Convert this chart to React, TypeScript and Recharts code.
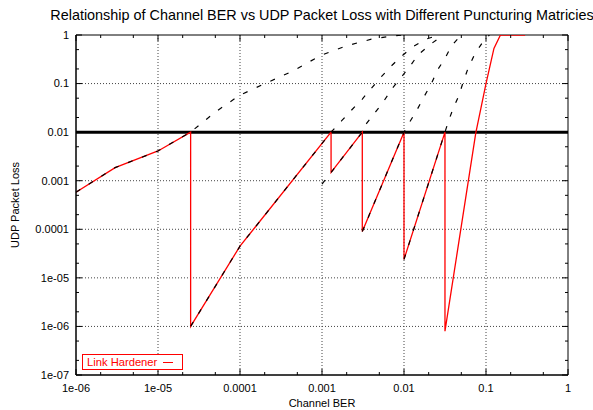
import { LineChart, Line, XAxis, YAxis, ReferenceLine, ReferenceArea, Legend } from 'recharts'

type Pt = { ber: number; loss: number }

// packet loss curves, one per puncturing matrix (strongest protection last)
const matrix1: Pt[] = [
  { ber: 1e-6, loss: 5.8e-4 },
  { ber: 3e-6, loss: 1.86e-3 },
  { ber: 1e-5, loss: 4.1e-3 },
  { ber: 2.5e-5, loss: 0.01 },
  { ber: 5e-5, loss: 0.026 },
  { ber: 1e-4, loss: 0.058 },
  { ber: 2.15e-4, loss: 0.105 },
  { ber: 4.5e-4, loss: 0.184 },
  { ber: 9.5e-4, loss: 0.375 },
  { ber: 2e-3, loss: 0.6 },
  { ber: 4e-3, loss: 0.82 },
  { ber: 7e-3, loss: 0.95 },
  { ber: 1e-2, loss: 1 },
]
const matrix2: Pt[] = [
  { ber: 2.5e-5, loss: 1e-6 },
  { ber: 1e-4, loss: 4.5e-5 },
  { ber: 1.29e-3, loss: 0.01 },
  { ber: 1.74e-3, loss: 0.0172 },
  { ber: 2.3e-3, loss: 0.0286 },
  { ber: 3.1e-3, loss: 0.048 },
  { ber: 4e-3, loss: 0.08 },
  { ber: 5.3e-3, loss: 0.139 },
  { ber: 7e-3, loss: 0.23 },
  { ber: 9.4e-3, loss: 0.37 },
  { ber: 0.0128, loss: 0.57 },
  { ber: 0.0185, loss: 0.82 },
  { ber: 0.027, loss: 1 },
]
const matrix3: Pt[] = [
  { ber: 1e-3, loss: 8.5e-4 },
  { ber: 1.29e-3, loss: 1.48e-3 },
  { ber: 3.1e-3, loss: 0.01 },
  { ber: 3.5e-3, loss: 0.0152 },
  { ber: 4.5e-3, loss: 0.026 },
  { ber: 5.7e-3, loss: 0.044 },
  { ber: 7.2e-3, loss: 0.08 },
  { ber: 9.4e-3, loss: 0.139 },
  { ber: 0.0121, loss: 0.24 },
  { ber: 0.0148, loss: 0.39 },
  { ber: 0.0212, loss: 0.65 },
  { ber: 0.03, loss: 1 },
]
const matrix4: Pt[] = [
  { ber: 3.1e-3, loss: 9e-5 },
  { ber: 0.01, loss: 0.01 },
  { ber: 0.0118, loss: 0.0164 },
  { ber: 0.0146, loss: 0.03 },
  { ber: 0.0176, loss: 0.054 },
  { ber: 0.0216, loss: 0.1 },
  { ber: 0.0253, loss: 0.184 },
  { ber: 0.0316, loss: 0.33 },
  { ber: 0.038, loss: 0.6 },
  { ber: 0.05, loss: 1 },
]
const matrix5: Pt[] = [
  { ber: 0.01, loss: 2.4e-5 },
  { ber: 0.0316, loss: 0.01 },
  { ber: 0.0347, loss: 0.0164 },
  { ber: 0.0398, loss: 0.031 },
  { ber: 0.047, loss: 0.058 },
  { ber: 0.052, loss: 0.1 },
  { ber: 0.06, loss: 0.2 },
  { ber: 0.073, loss: 0.406 },
  { ber: 0.092, loss: 0.73 },
  { ber: 0.11, loss: 1 },
]

// adaptive scheme: switches matrix whenever loss reaches the target
const linkHardener: Pt[] = [
  { ber: 1e-6, loss: 5.8e-4 },
  { ber: 3e-6, loss: 1.86e-3 },
  { ber: 1e-5, loss: 4.1e-3 },
  { ber: 2.5e-5, loss: 0.01 },
  { ber: 2.5e-5, loss: 1e-6 },
  { ber: 1e-4, loss: 4.5e-5 },
  { ber: 1.29e-3, loss: 0.01 },
  { ber: 1.29e-3, loss: 1.48e-3 },
  { ber: 3.1e-3, loss: 0.01 },
  { ber: 3.1e-3, loss: 9e-5 },
  { ber: 0.01, loss: 0.01 },
  { ber: 0.01, loss: 2.4e-5 },
  { ber: 0.0316, loss: 0.01 },
  { ber: 0.0316, loss: 8e-7 },
  { ber: 0.075, loss: 0.0095 },
  { ber: 0.1, loss: 0.1 },
  { ber: 0.125, loss: 0.53 },
  { ber: 0.15, loss: 1 },
  { ber: 0.3, loss: 1 },
]

const LOSS_TARGET = 0.01

const berTicks = [1e-6, 1e-5, 1e-4, 1e-3, 1e-2, 1e-1, 1]
const berLabels = ['1e-06', '1e-05', '0.0001', '0.001', '0.01', '0.1', '1']
const lossTicks = [1e-7, 1e-6, 1e-5, 1e-4, 1e-3, 1e-2, 1e-1, 1]
const lossLabels = ['1e-07', '1e-06', '1e-05', '0.0001', '0.001', '0.01', '0.1', '1']

const dashedCurves = [matrix1, matrix2, matrix3, matrix4, matrix5]

// layout
const W = 593
const H = 410
const MARGIN = { top: 35, right: 25, left: 0, bottom: 0 }
const Y_AXIS_W = 76
const X_AXIS_H = 35
const PLOT_W = W - Y_AXIS_W - MARGIN.right
const PLOT_H = H - MARGIN.top - X_AXIS_H
const TICK_GAP = 7
const FONT = '"Liberation Sans", Arial, sans-serif'

// decade ticks plus the 2 and 5 minor ticks in between
const withMinor = (decades: number[]) =>
  decades.flatMap((d, i) => (i < decades.length - 1 ? [d, 2 * d, 5 * d] : [d]))

const findMajor = (list: number[], v: number) =>
  list.findIndex((t) => Math.abs(t - v) / t < 1e-6)

const LossTick = (props: any) => {
  const { x, y, payload } = props
  const i = findMajor(lossTicks, payload.value)
  const axisX = x + TICK_GAP
  const len = i >= 0 ? 6 : 3
  return (
    <g>
      <line x1={axisX} x2={axisX + len} y1={y} y2={y} stroke="#000" />
      <line x1={axisX + PLOT_W} x2={axisX + PLOT_W - len} y1={y} y2={y} stroke="#000" />
      {i >= 0 && (
        <text x={x} y={y} dy="0.35em" textAnchor="end" fontSize={11} fill="#000">
          {lossLabels[i]}
        </text>
      )}
    </g>
  )
}

const BerTick = (props: any) => {
  const { x, y, payload } = props
  const i = findMajor(berTicks, payload.value)
  const axisY = y - TICK_GAP
  const len = i >= 0 ? 6 : 3
  return (
    <g>
      <line x1={x} x2={x} y1={axisY} y2={axisY - len} stroke="#000" />
      <line x1={x} x2={x} y1={axisY - PLOT_H} y2={axisY - PLOT_H + len} stroke="#000" />
      {i >= 0 && (
        <text x={x} y={axisY} dy={17} textAnchor="middle" fontSize={11} fill="#000">
          {berLabels[i]}
        </text>
      )}
    </g>
  )
}

const LegendBox = () => (
  <div
    style={{
      position: 'relative',
      width: 99,
      height: 14,
      border: '1px solid #f00',
      background: '#fff',
      color: '#f00',
      fontSize: 11.2,
      lineHeight: '14px',
      fontFamily: FONT,
    }}
  >
    <span style={{ position: 'absolute', left: 4, top: 0, whiteSpace: 'nowrap' }}>Link Hardener</span>
    <span style={{ position: 'absolute', left: 80, top: 7, width: 10, borderTop: '1px solid #f00' }} />
  </div>
)

export default function App() {
  return (
    <div
      style={{
        position: 'absolute',
        left: 0,
        top: 0,
        width: W,
        height: H,
        overflow: 'hidden',
        background: '#fff',
        fontFamily: FONT,
      }}
    >
      <div
        style={{
          position: 'absolute',
          left: 0,
          top: 7,
          width: 2 * (Y_AXIS_W + PLOT_W / 2),
          textAlign: 'center',
          fontSize: 14.4,
          lineHeight: '16px',
          whiteSpace: 'nowrap',
          color: '#000',
        }}
      >
        Relationship of Channel BER vs UDP Packet Loss with Different Puncturing Matricies
      </div>
      <LineChart width={W} height={H} margin={MARGIN}>
        <XAxis
          dataKey="ber"
          type="number"
          scale="log"
          domain={[1e-6, 1]}
          allowDataOverflow
          ticks={withMinor(berTicks)}
          interval={0}
          height={X_AXIS_H}
          tickSize={0}
          tickMargin={TICK_GAP}
          tickLine={false}
          tick={<BerTick />}
          axisLine={{ stroke: '#000' }}
          label={{ value: 'Channel BER', position: 'insideBottom', offset: 3, fill: '#000', fontSize: 11 }}
        />
        <YAxis
          dataKey="loss"
          type="number"
          scale="log"
          domain={[1e-7, 1]}
          allowDataOverflow
          ticks={withMinor(lossTicks)}
          interval={0}
          width={Y_AXIS_W}
          tickSize={0}
          tickMargin={TICK_GAP}
          tickLine={false}
          tick={<LossTick />}
          axisLine={{ stroke: '#000' }}
          label={{
            value: 'UDP Packet Loss',
            angle: -90,
            position: 'insideLeft',
            offset: 15,
            fill: '#000',
            fontSize: 11,
            style: { textAnchor: 'middle' },
          }}
        />
        {berTicks.slice(1, -1).map((v) => (
          <ReferenceLine key={'gx' + v} x={v} stroke="#444" strokeDasharray="1 2" />
        ))}
        {lossTicks.slice(1, -1).map((v) => (
          <ReferenceLine key={'gy' + v} y={v} stroke="#444" strokeDasharray="1 2" />
        ))}
        <ReferenceLine y={LOSS_TARGET} stroke="#000" strokeWidth={3} />
        <ReferenceArea x1={1e-6} x2={1} y1={1e-7} y2={1} fill="none" stroke="#000" ifOverflow="visible" />
        <Line
          data={linkHardener}
          dataKey="loss"
          name="Link Hardener"
          type="linear"
          stroke="#ff0000"
          strokeWidth={1.3}
          dot={false}
          isAnimationActive={false}
        />
        {dashedCurves.map((curve, i) => (
          <Line
            key={'m' + i}
            data={curve}
            dataKey="loss"
            type="linear"
            stroke="#000"
            strokeWidth={1.2}
            strokeDasharray="5 10"
            dot={false}
            legendType="none"
            isAnimationActive={false}
          />
        ))}
        <Legend
          layout="horizontal"
          verticalAlign="middle"
          align="center"
          wrapperStyle={{ left: 82, top: 354, width: 'auto' }}
          content={() => <LegendBox />}
        />
      </LineChart>
    </div>
  )
}
